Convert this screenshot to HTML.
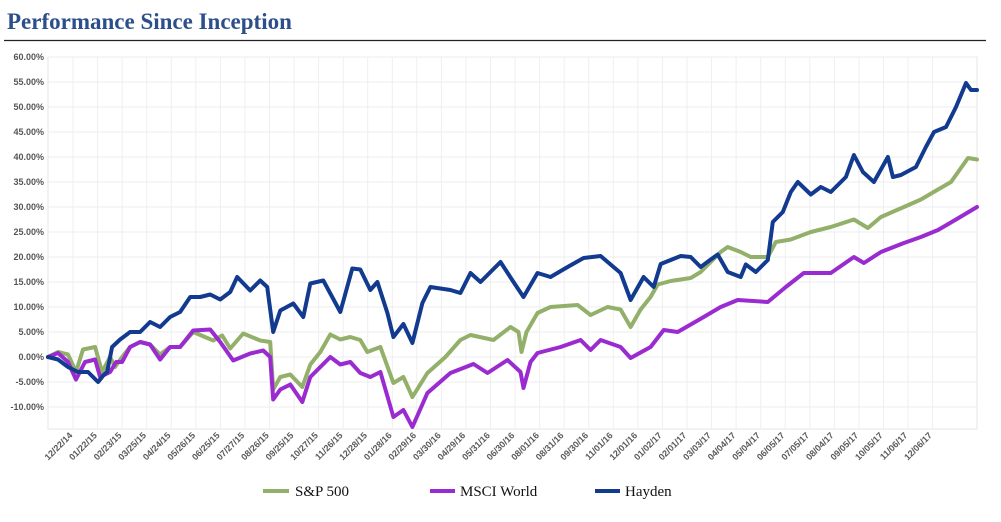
<!DOCTYPE html>
<html><head><meta charset="utf-8"><style>
body{margin:0;background:#fff;width:1001px;height:522px;overflow:hidden}
svg{display:block}
</style></head><body>
<svg width="1001" height="522" viewBox="0 0 1001 522">
<text x="7" y="29" font-family="Liberation Serif, serif" font-weight="bold" font-size="23" fill="#2c4f8c">Performance Since Inception</text>
<line x1="4" y1="40.5" x2="986" y2="40.5" stroke="#222" stroke-width="1.2"/>
<g id="grid"></g><g id="yaxis"></g><g id="xaxis"></g><g id="series"></g>
<g font-family="Liberation Serif, serif" font-size="15" fill="#111">
 <line x1="263" y1="491" x2="289" y2="491" stroke="#93b06a" stroke-width="4"/>
 <text x="295" y="496">S&amp;P 500</text>
 <line x1="430" y1="491" x2="455" y2="491" stroke="#9a2bd0" stroke-width="4"/>
 <text x="460" y="496">MSCI World</text>
 <line x1="595" y1="491" x2="620" y2="491" stroke="#123a8f" stroke-width="4"/>
 <text x="625" y="496">Hayden</text>
</g>
</svg>
<script>
const xTickLabels=["12/22/14","01/22/15","02/23/15","03/25/15","04/24/15","05/26/15","06/25/15","07/27/15","08/26/15","09/25/15","10/27/15","11/26/15","12/28/15","01/28/16","02/29/16","03/30/16","04/29/16","05/31/16","06/30/16","08/01/16","08/31/16","09/30/16","11/01/16","12/01/16","01/02/17","02/01/17","03/03/17","04/04/17","05/04/17","06/05/17","07/05/17","08/04/17","09/05/17","10/05/17","11/06/17","12/06/17"];
const yTicks=[60,55,50,45,40,35,30,25,20,15,10,5,0,-5,-10];
const haydenDays=[0,10,20,30,40,50,56,59,64,72,82,92,102,112,122,132,142,152,162,172,182,189,202,212,219,225,232,245,255,262,275,292,304,312,322,329,339,345,355,364,374,382,402,412,422,432,452,465,475,489,502,519,535,552,572,582,595,605,612,632,642,652,662,669,679,692,697,707,719,724,734,742,749,762,772,782,797,805,814,825,839,844,852,867,877,885,897,907,917,922,928];
const haydenVals=[0,-0.5,-2,-3,-3,-5,-3.5,-3,2,3.5,5,5,7,6,8,9,12,12,12.5,11.5,13,16,13.3,15.3,14,5,9.3,10.7,8,14.7,15.3,9,17.7,17.5,13.4,15,8.8,4,6.6,2.8,10.8,14,13.4,12.8,16.8,15,19,15,12,16.8,16,18,19.8,20.2,16.8,11.4,16,14,18.6,20.2,20,18,19.5,20.5,17,16,18.5,17,19.4,27,29,33,35,32.5,34,33,36,40.4,37,35,40,36,36.4,38,42,45,46,50,54.8,53.4,53.4];
const spDays=[0,10,20,28,35,47,54,62,67,74,82,92,102,112,122,132,145,165,174,182,195,212,222,225,232,242,254,262,272,282,292,302,312,319,332,345,355,364,379,397,412,422,445,462,470,473,478,489,502,529,542,559,572,582,592,602,609,622,642,652,662,672,679,692,702,719,727,742,762,782,805,819,832,855,872,889,902,919,928];
const spVals=[0,1,0.5,-3,1.5,2,-3,0,-2,0,2,3,2.5,0.5,2,2,5,3.3,4.3,1.7,4.7,3.3,3,-6.5,-4,-3.5,-6,-1.5,1,4.5,3.5,4,3.4,1,2,-5.2,-4,-8,-3.2,0,3.4,4.4,3.4,6,5,1,5,8.8,10,10.4,8.4,10,9.5,6,9.5,12,14.5,15.2,15.8,17,19,21,22,21,20,20,23,23.5,25,26,27.5,25.8,28,30,31.5,33.5,35,39.8,39.5];
const msciDays=[0,10,20,28,37,47,52,62,68,74,82,92,102,112,122,132,145,162,172,185,202,215,222,225,232,242,254,262,272,282,292,302,312,322,332,345,355,364,379,402,425,439,459,472,475,482,489,512,532,542,552,572,582,602,615,629,642,655,672,689,719,737,755,782,805,815,832,855,872,889,907,928];
const msciVals=[0,0.8,-1,-4.5,-1,-0.5,-4,-3,-1,-1,2,3,2.5,-0.5,2,2,5.3,5.5,3,-0.7,0.7,1.3,0,-8.5,-6.5,-5.5,-9,-4,-2,0,-1.5,-1,-3.2,-4,-3,-12,-10.6,-14,-7.2,-3.2,-1.4,-3.2,-0.6,-3,-6.2,-1,0.8,2,3.4,1.4,3.4,2,-0.2,2,5.4,5,6.5,8,10,11.4,11,14,16.8,16.8,20,18.8,21,22.8,24,25.4,27.5,30];

const NS="http://www.w3.org/2000/svg";
const L=48,R=977,T=57,B=429,DMAX=928;
const x=d=>L+d/DMAX*(R-L);
const y=v=>357-v*5;
function mk(tag,attrs,parent){const e=document.createElementNS(NS,tag);for(const k in attrs)e.setAttribute(k,attrs[k]);parent.appendChild(e);return e;}
const grid=document.getElementById('grid'),ya=document.getElementById('yaxis'),xa=document.getElementById('xaxis'),sr=document.getElementById('series');
mk('rect',{x:L,y:T,width:R-L,height:B-T,fill:'none',stroke:'#e6e6e6'},grid);
yTicks.forEach(v=>{
 const g=mk('line',{x1:L,x2:R,y1:y(v),y2:y(v),stroke:'#ececec','stroke-width':1},grid);
 
 
 const t=mk('text',{x:44,y:y(v)+3,'text-anchor':'end','font-family':'Liberation Sans, sans-serif','font-size':9,'font-weight':'bold',fill:'#555'},ya);
 t.textContent=v.toFixed(2)+'%';
 
 
});
const step=24.56;
xTickLabels.forEach((lab,i)=>{
 const gx=73+i*step;
 const g=mk('line',{x1:gx,x2:gx,y1:T,y2:B,stroke:'#efefef','stroke-width':1},grid);
 
 
 const t=mk('text',{x:gx,y:436,'text-anchor':'end','font-family':'Liberation Sans, sans-serif','font-size':9,'font-weight':'bold',fill:'#5a5a5a',transform:`rotate(-45 ${gx} 436)`},xa);
 t.textContent=lab;
 
 
});
function line(days,vals,color,name){
 const d=days.map((dd,i)=>(i?'L':'M')+x(dd).toFixed(1)+' '+y(vals[i]).toFixed(1)).join(' ');
 const p=mk('path',{d:d,fill:'none',stroke:color,'stroke-width':4,'stroke-linejoin':'round','stroke-linecap':'round'},sr);
 
 
}
line(spDays,spVals,'#93b06a','sp500-line');
line(msciDays,msciVals,'#9a2bd0','msci-world-line');
line(haydenDays,haydenVals,'#123a8f','hayden-line');
</script>
</body></html>
